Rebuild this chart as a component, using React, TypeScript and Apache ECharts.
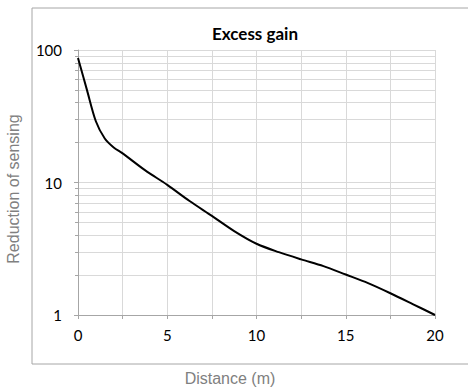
import React, { useEffect, useRef } from "react";
import * as echarts from "echarts";

const titleText = "Excess gain";
const xAxisTitle = "Distance (m)";
const yAxisTitle = "Reduction of sensing";
const distance = [0, 0.5, 1, 1.5, 2, 2.5, 3.75, 5, 6.25, 7.5, 8.75, 10, 11.25, 12.5, 13.75, 15, 16.25, 17.5, 18.75, 20];
const reduction = [87, 50, 29, 21.5, 18.4, 16.6, 12.4, 9.6, 7.25, 5.6, 4.3, 3.45, 2.98, 2.63, 2.34, 2.02, 1.74, 1.46, 1.21, 1.0];

export default function App() {
  const ref = useRef<HTMLDivElement>(null);
  useEffect(() => {
    document.body.style.margin = "0";
    if (!ref.current) return;
    const chart = echarts.init(ref.current, null, { renderer: "svg" });
    const data = distance.map((d, i) => [d, reduction[i]]);
    chart.setOption({
      animation: false,
      backgroundColor: "#ffffff",
      title: {
        text: titleText,
        left: 250,
        top: 20,
        textAlign: "center",
        textStyle: { fontFamily: "Lato", fontWeight: "bold", fontSize: 17, color: "#000" },
      },
      graphic: [
        {
          type: "rect",
          shape: { x: 32, y: 8, width: 460, height: 356 },
          style: { fill: "none", stroke: "#a6a6a6", lineWidth: 1 },
          silent: true,
          z: -1,
        },
        {
          type: "text",
          x: 230,
          y: 378,
          style: {
            text: xAxisTitle,
            fontFamily: "Liberation Sans",
            fontSize: 16,
            fill: "#808080",
            align: "center",
            verticalAlign: "middle",
          },
        },
        {
          type: "text",
          x: 13,
          y: 189,
          rotation: Math.PI / 2,
          style: {
            text: yAxisTitle,
            fontFamily: "Liberation Sans",
            fontSize: 16,
            fill: "#808080",
            align: "center",
            verticalAlign: "middle",
          },
        },
      ],
      grid: { left: 78, right: 33, top: 50, bottom: 75 },
      xAxis: {
        type: "value",
        min: 0,
        max: 20,
        interval: 2.5,
        axisLine: { show: true, lineStyle: { color: "#a6a6a6" } },
        axisTick: { show: true, length: 4, lineStyle: { color: "#a6a6a6" } },
        splitLine: { show: true, lineStyle: { color: "#d9d9d9" } },
        axisLabel: {
          margin: 12,
          fontFamily: "Lato",
          fontSize: 15,
          color: "#000",
          formatter: (v: number) => (v % 5 === 0 ? String(v) : ""),
        },
      },
      yAxis: {
        type: "log",
        logBase: 10,
        min: 1,
        max: 100,
        axisLine: { show: true, lineStyle: { color: "#a6a6a6" } },
        axisTick: { show: true, length: 4, lineStyle: { color: "#a6a6a6" } },
        minorTick: { show: true, splitNumber: 9, length: 3, lineStyle: { color: "#a6a6a6" } },
        splitLine: { show: true, lineStyle: { color: "#d9d9d9" } },
        minorSplitLine: { show: true, lineStyle: { color: "#d9d9d9" } },
        axisLabel: { margin: 16, fontFamily: "Lato", fontSize: 15, color: "#000" },
      },
      series: [
        {
          type: "line",
          data,
          smooth: 0.3,
          showSymbol: false,
          lineStyle: { color: "#000", width: 2 },
        },
      ],
    });
    return () => chart.dispose();
  }, []);
  return <div ref={ref} style={{ width: 468, height: 390 }} />;
}
